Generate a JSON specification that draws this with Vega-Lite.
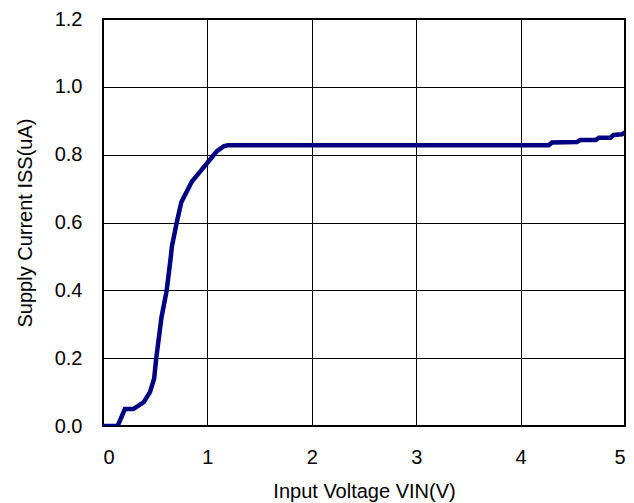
{
  "$schema": "https://vega.github.io/schema/vega-lite/v6.json",
  "autosize": {"type": "none"},
  "padding": {"left": 103, "top": 19, "right": 9, "bottom": 77},
  "width": 522,
  "height": 407,
  "background": "white",
  "config": {
    "view": {"stroke": "black", "strokeWidth": 2},
    "font": "Liberation Sans"
  },
  "data": {
    "values": [
      {"vin": 0.0, "iss": 0.0},
      {"vin": 0.14, "iss": 0.0},
      {"vin": 0.21, "iss": 0.05},
      {"vin": 0.29, "iss": 0.05},
      {"vin": 0.34, "iss": 0.06},
      {"vin": 0.39, "iss": 0.07},
      {"vin": 0.45, "iss": 0.1},
      {"vin": 0.49, "iss": 0.14},
      {"vin": 0.5, "iss": 0.17},
      {"vin": 0.51, "iss": 0.2},
      {"vin": 0.56, "iss": 0.32},
      {"vin": 0.61, "iss": 0.4},
      {"vin": 0.65, "iss": 0.5},
      {"vin": 0.66, "iss": 0.53},
      {"vin": 0.71, "iss": 0.605},
      {"vin": 0.75, "iss": 0.66},
      {"vin": 0.8, "iss": 0.69},
      {"vin": 0.85, "iss": 0.72},
      {"vin": 0.93, "iss": 0.75},
      {"vin": 1.01, "iss": 0.78},
      {"vin": 1.09, "iss": 0.81},
      {"vin": 1.16, "iss": 0.825},
      {"vin": 1.2, "iss": 0.828},
      {"vin": 2.0, "iss": 0.828},
      {"vin": 3.0, "iss": 0.828},
      {"vin": 4.27, "iss": 0.828},
      {"vin": 4.3, "iss": 0.836},
      {"vin": 4.54, "iss": 0.837},
      {"vin": 4.57, "iss": 0.843},
      {"vin": 4.72, "iss": 0.843},
      {"vin": 4.75, "iss": 0.85},
      {"vin": 4.86, "iss": 0.85},
      {"vin": 4.89, "iss": 0.858},
      {"vin": 4.97, "iss": 0.86},
      {"vin": 5.0, "iss": 0.866}
    ]
  },
  "mark": {"type": "line", "color": "#000080", "strokeWidth": 4.5, "clip": true},
  "encoding": {
    "x": {
      "field": "vin",
      "type": "quantitative",
      "scale": {"domain": [0, 5], "nice": false},
      "axis": {
        "title": "Input Voltage VIN(V)",
        "values": [0, 1, 2, 3, 4, 5],
        "format": "d",
        "grid": true,
        "gridColor": "black",
        "gridOpacity": 1,
        "gridWidth": 1,
        "domain": false,
        "ticks": false,
        "labelPadding": 21,
        "labelFontSize": 20,
        "labelColor": "black",
        "labelFont": "Liberation Sans",
        "titleFont": "Liberation Sans",
        "titleFontSize": 20,
        "titleFontWeight": "normal",
        "titleColor": "black",
        "titlePadding": 14
      }
    },
    "y": {
      "field": "iss",
      "type": "quantitative",
      "scale": {"domain": [0, 1.2], "nice": false},
      "axis": {
        "title": "Supply Current ISS(uA)",
        "values": [0, 0.2, 0.4, 0.6, 0.8, 1.0, 1.2],
        "format": ".1f",
        "grid": true,
        "gridColor": "black",
        "gridOpacity": 1,
        "gridWidth": 1,
        "domain": false,
        "ticks": false,
        "labelPadding": 21,
        "labelFontSize": 20,
        "labelColor": "black",
        "labelFont": "Liberation Sans",
        "titleFont": "Liberation Sans",
        "titleFontSize": 20,
        "titleFontWeight": "normal",
        "titleColor": "black",
        "titlePadding": 19
      }
    }
  }
}
